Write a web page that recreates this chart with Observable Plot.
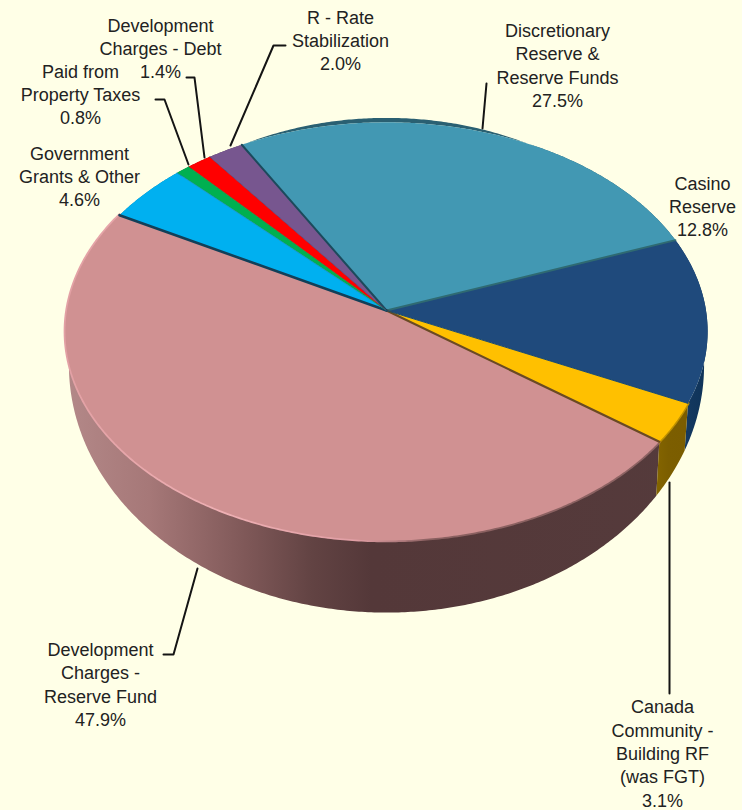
<!DOCTYPE html>
<html>
<head>
<meta charset="utf-8">
<script src="https://cdn.jsdelivr.net/npm/d3@7"></script>
<script src="https://cdn.jsdelivr.net/npm/@observablehq/plot@0.6"></script>
<style>
  html, body { margin: 0; padding: 0; background: #ffffe7; }
  svg { display: block; }
</style>
</head>
<body>
<script>
// Reserve funding shares, clockwise from the Discretionary slice.
const categories = [
  "Discretionary Reserve & Reserve Funds",
  "Casino Reserve",
  "Canada Community - Building RF (was FGT)",
  "Development Charges - Reserve Fund",
  "Government Grants & Other",
  "Paid from Property Taxes",
  "Development Charges - Debt",
  "R - Rate Stabilization"
];
const shares = [27.5, 12.8, 3.1, 47.9, 4.6, 0.8, 1.4, 2.0];
const faceColors = ["#4298b3", "#1f4a7c", "#ffc000", "#d09192", "#00b0f0", "#00b050", "#ff0000", "#77568f"];
const wallFills = ["#2a6072", "url(#wallNavy)", "url(#wallGold)", "url(#wallRose)", "#007aa8", "#007a38", "#a00000", "#503a60"];

// Text blocks beside the pie.
const labelText = [
  "Discretionary\nReserve &\nReserve Funds\n27.5%",
  "Casino\nReserve\n12.8%",
  "Canada\nCommunity -\nBuilding RF\n(was FGT)\n3.1%",
  "Development\nCharges -\nReserve Fund\n47.9%",
  "Government\nGrants & Other\n4.6%",
  "Paid from\nProperty Taxes\n0.8%",
  "Development\nCharges - Debt\n1.4%",
  "R - Rate\nStabilization\n2.0%"
];
const labelX = [557, 702, 662, 100, 79, 80, 160, 340];
const labelY = [64, 205, 752, 683, 175, 93, 47, 39];

// Leader polylines, one per label.
const leaders = [
  [[486, 83], [482, 128]],
  [],
  [[669, 482], [669, 693]],
  [[163, 654], [173, 654], [197, 568]],
  [],
  [[155, 99], [164, 99], [188, 164]],
  [[186, 77], [194, 77], [204, 157]],
  [[285, 45], [273, 45], [230, 145]]
];

// Perspective disc: unit circle to page position, for the top and bottom planes.
const tilt = {cx: 386, cy: 310, rx: 319.5, ry: 207, k: 0.1};
const base = {cx: 386, cy: 340, sx: 0.989, sy: 1.183};
function onTop(a) {
  const w = 1 + tilt.k * Math.cos(a);
  return [tilt.cx + tilt.rx * Math.sin(a) / w, tilt.cy - tilt.ry * Math.cos(a) / w];
}
function onBase(a) {
  const w = 1 + tilt.k * Math.cos(a);
  return [base.cx + base.sx * tilt.rx * Math.sin(a) / w, base.cy - base.sy * tilt.ry * Math.cos(a) / w];
}
const deg = Math.PI / 180;
const startAngle = -29.5 * deg;
const arcs = d3.pie().sort(null).startAngle(startAngle).endAngle(startAngle + 2 * Math.PI)(shares);

function sweep(arc) {
  const n = Math.max(2, Math.ceil((arc.endAngle - arc.startAngle) / (0.5 * deg)));
  return d3.range(n + 1).map(i => arc.startAngle + (arc.endAngle - arc.startAngle) * i / n);
}
const pt = ([x, y]) => ({x, y});

const wallMarks = arcs.map((arc, i) => {
  const as = sweep(arc);
  const outline = [...as.map(onTop), ...as.slice().reverse().map(onBase)].map(pt);
  return {outline, fill: wallFills[i]};
});
// Walls of the front slices are painted last so they sit on top of the hidden ones.
const wallOrder = [0, 4, 5, 6, 7, 1, 3, 2];

const faceMarks = arcs.map((arc, i) => {
  const outline = [[tilt.cx, tilt.cy], ...sweep(arc).map(onTop)].map(pt);
  return Plot.line(outline, {x: "x", y: "y", fill: faceColors[i], stroke: "none"});
});

// Shadowed seams between neighbouring faces: slice index whose start edge is drawn, and its tone.
const seamSlices = [0, 1, 3, 4, 5, 6, 7];
const seamTones = ["#1c4a5c", "#2f6a72", "#6a4a24", "#123f58", "#0c8acb", "#0d8f3e", "#5a3a70"];
const seamWidths = [2, 2, 2.2, 2.6, 0.8, 0.8, 0.8];
const seams = seamSlices.map((s, i) => {
  const a = arcs[s].startAngle;
  return Plot.line([[tilt.cx, tilt.cy], onTop(a)].map(pt), {x: "x", y: "y", stroke: seamTones[i], strokeWidth: seamWidths[i]});
});
// Casino/Reserve boundary carries the first seam of the Canada slice as well.
const casinoEnd = Plot.line([[tilt.cx, tilt.cy], onTop(arcs[2].startAngle)].map(pt), {x: "x", y: "y", stroke: "#1b4a6a", strokeWidth: 1});

// Bevel along the front rim of the largest slice.
const rimAngles = sweep(arcs[3]);
const rim = Plot.line(rimAngles.map(onTop).map(pt), {x: "x", y: "y", stroke: "url(#rimRose)", strokeWidth: 3.5, strokeLinejoin: "round"});
const rimGold = Plot.line(sweep(arcs[2]).map(onTop).map(pt), {x: "x", y: "y", stroke: "#bd9000", strokeWidth: 3});

function gradient(defs, id, stops) {
  const g = defs.append("linearGradient").attr("id", id)
    .attr("gradientUnits", "userSpaceOnUse")
    .attr("x1", 0).attr("x2", 742).attr("y1", 0).attr("y2", 0);
  for (const [offset, color] of stops) g.append("stop").attr("offset", offset).attr("stop-color", color);
}
function gradients() {
  const defs = d3.create("svg:defs");
  gradient(defs, "wallRose", [[0.09, "#b38888"], [0.2, "#a67878"], [0.33, "#7f5858"], [0.42, "#624343"], [0.5, "#543839"], [1, "#553b3c"]]);
  gradient(defs, "rimRose", [[0.08, "#e2a0a4"], [0.3, "#eeb0b4"], [0.48, "#e09ea4"], [0.58, "#8a6060"], [1, "#8d6363"]]);
  gradient(defs, "wallGold", [[0.87, "#8a6a00"], [0.9, "#7c5e00"], [0.94, "#7a5c00"]]);
  gradient(defs, "wallNavy", [[0.9, "#183e68"], [0.95, "#0f3358"]]);
  return defs.node();
}

const labelRows = labelText.map((text, i) => ({text, x: labelX[i], y: labelY[i], category: categories[i]}));

const chart = Plot.plot({
  width: 742,
  height: 810,
  margin: 0,
  style: {background: "#ffffe7"},
  x: {domain: [0, 742], range: [0, 742], axis: null},
  y: {domain: [0, 810], range: [0, 810], axis: null},
  marks: [
    gradients,
    ...wallOrder.map(i => Plot.line(wallMarks[i].outline, {x: "x", y: "y", fill: wallMarks[i].fill, stroke: "none"})),
    rim,
    rimGold,
    ...faceMarks,
    ...seams,
    casinoEnd,
    ...leaders.filter(l => l.length).map(l => Plot.line(l.map(pt), {x: "x", y: "y", stroke: "#141414", strokeWidth: 2})),
    Plot.text(labelRows, {
      x: "x", y: "y", text: "text",
      fontFamily: "Liberation Sans, Arial, sans-serif",
      fontSize: 18,
      lineHeight: 1.3,
      fill: "#222",
      textAnchor: "middle",
      lineAnchor: "middle"
    })
  ]
});
document.body.appendChild(chart);
</script>
</body>
</html>
